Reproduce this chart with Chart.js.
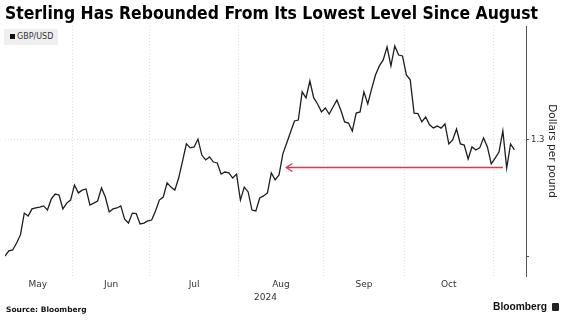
<!DOCTYPE html>
<html>
<head>
<meta charset="utf-8">
<script src="https://cdn.jsdelivr.net/npm/chart.js@4.4.1/dist/chart.umd.min.js"></script>
<style>
  html, body { margin: 0; padding: 0; background: #fff; }
  #wrap { position: relative; width: 567px; height: 323px; overflow: hidden; }
  #chart { position: absolute; left: 0; top: 0; }
  .title { position: absolute; left: 5px; top: 2px; font: bold 18.5px "Liberation Sans Narrow", "DejaVu Sans Condensed", sans-serif; color: #000; white-space: nowrap; transform-origin: 0 0; }
  .legend { position: absolute; left: 4px; top: 29px; width: 54px; height: 16px; background: #efefef; font: 8px "DejaVu Sans", sans-serif; color: #333; line-height: 16px; white-space: nowrap; }
  .legend i { display: inline-block; width: 5px; height: 5px; background: #111; margin: 0 2px 0 6px; vertical-align: 0; }
  .source { position: absolute; left: 6px; top: 305px; font: bold 7.5px "DejaVu Sans", sans-serif; color: #111; white-space: nowrap; }
  .logo { position: absolute; left: 493px; top: 300px; font: bold 10.5px "Liberation Sans", sans-serif; color: #111; white-space: nowrap; transform-origin: 0 0; }
  .logo-icon { position: absolute; left: 552px; top: 303px; width: 7px; height: 8px; background: #222; border-radius: 1px; }
</style>
</head>
<body>
<div id="wrap">
  <canvas id="chart" width="567" height="323"></canvas>
  <div class="title" id="title">Sterling Has Rebounded From Its Lowest Level Since August</div>
  <div class="legend"><i></i>GBP/USD</div>
  <div class="source">Source: Bloomberg</div>
  <div class="logo" id="logo">Bloomberg</div>
  <div class="logo-icon"></div>
</div>
<script>
// trading days shown per month, May 8 to Nov 8 2024
const months = ['May', 'Jun', 'Jul', 'Aug', 'Sep', 'Oct', 'Nov'];
const tradingDays = [18, 20, 23, 22, 21, 23, 6];
const labelledMonths = ['May', 'Jun', 'Jul', 'Aug', 'Sep', 'Oct'];

// GBP/USD daily close
const gbpusd = [
  1.2500, 1.2522, 1.2526, 1.2556, 1.2591, 1.2685, 1.2672, 1.2703, 1.2707, 1.2711,
  1.2716, 1.2698, 1.2746, 1.2767, 1.2763, 1.2703, 1.2728, 1.2741,
  1.2806, 1.2772, 1.2784, 1.2789, 1.2720, 1.2728, 1.2737, 1.2793, 1.2754, 1.2690,
  1.2703, 1.2707, 1.2716, 1.2659, 1.2642, 1.2685, 1.2683, 1.2638, 1.2642, 1.2651,
  1.2655, 1.2694, 1.2741, 1.2754, 1.2815, 1.2797, 1.2784, 1.2836, 1.2909, 1.2983,
  1.2966, 1.2970, 1.3004, 1.2935, 1.2914, 1.2927, 1.2905, 1.2901, 1.2853, 1.2862,
  1.2858, 1.2836, 1.2853,
  1.2741, 1.2797, 1.2776, 1.2698, 1.2694, 1.2750, 1.2759, 1.2772, 1.2858, 1.2828,
  1.2849, 1.2940, 1.2987, 1.3034, 1.3082, 1.3086, 1.3207, 1.3181, 1.3254, 1.3181,
  1.3155, 1.3121,
  1.3138, 1.3112, 1.3142, 1.3172, 1.3129, 1.3078, 1.3073, 1.3039, 1.3116, 1.3121,
  1.3207, 1.3155, 1.3220, 1.3280, 1.3319, 1.3345, 1.3401, 1.3319, 1.3405, 1.3366,
  1.3362,
  1.3280, 1.3259, 1.3116, 1.3114, 1.3078, 1.3099, 1.3065, 1.3052, 1.3060, 1.3051,
  1.3069, 1.2983, 1.3000, 1.3047, 1.2983, 1.2978, 1.2918, 1.2970, 1.2957, 1.2966,
  1.3009, 1.2970, 1.2897,
  1.2922, 1.2948, 1.3039, 1.2879, 1.2983, 1.2957
];

const yTicks = [1.25, 1.3];
const yLabelled = [1.3];

// red arrow: from the latest low back to August
const arrowFrom = 129;
const arrowTo = 72.9;
const arrowLevel = 1.2884;

// month boundaries (gridlines) and mid-month label spots, in trading-day units
const starts = [];
let acc = 0;
tradingDays.forEach(n => { starts.push(acc); acc += n; });
const boundaries = starts.slice(1).map(s => s - 0.5);
const centers = [];
months.forEach((m, i) => {
  if (!labelledMonths.includes(m)) return;
  const a = starts[i] - 0.5;
  const b = i + 1 < starts.length ? starts[i + 1] - 0.5 : acc - 0.5;
  centers.push({ v: (a + b) / 2, m });
});

const arrowPlugin = {
  id: 'arrow',
  afterDatasetsDraw(chart) {
    const { ctx, scales: { x, y } } = chart;
    const x1 = x.getPixelForValue(arrowFrom);
    const x2 = x.getPixelForValue(arrowTo);
    const yy = Math.round(y.getPixelForValue(arrowLevel)) + 0.5;
    ctx.save();
    ctx.setLineDash([]);
    ctx.strokeStyle = '#e8304f';
    ctx.lineWidth = 1.3;
    ctx.beginPath();
    ctx.moveTo(x1, yy);
    ctx.lineTo(x2, yy);
    ctx.stroke();
    ctx.beginPath();
    ctx.moveTo(x2 + 6, yy - 4);
    ctx.lineTo(x2, yy);
    ctx.lineTo(x2 + 6, yy + 4);
    ctx.stroke();
    ctx.restore();
  }
};

new Chart(document.getElementById('chart'), {
  type: 'line',
  data: {
    datasets: [{
      label: 'GBP/USD',
      data: gbpusd.map((v, i) => ({ x: i, y: v })),
      borderColor: '#1e1e1e',
      borderWidth: 1.3,
      pointRadius: 0,
      tension: 0,
      fill: false
    }]
  },
  options: {
    responsive: false,
    animation: false,
    devicePixelRatio: 1,
    layout: { padding: { top: 26, left: 5, right: 0, bottom: 0 } },
    plugins: { legend: { display: false }, tooltip: { enabled: false } },
    scales: {
      x: {
        type: 'linear',
        min: 0,
        max: 135,
        afterBuildTicks: s => {
          s.ticks = boundaries.map(v => ({ value: v }))
            .concat(centers.map(c => ({ value: c.v })))
            .sort((a, b) => a.value - b.value);
        },
        afterFit: s => { s.height = 47; },
        ticks: {
          autoSkip: false,
          maxRotation: 0,
          padding: 3,
          color: '#333',
          font: { family: 'DejaVu Sans', size: 9 },
          callback: v => {
            const c = centers.find(c => c.v === v);
            return c ? c.m : '';
          }
        },
        grid: {
          color: ctx => ctx.tick && boundaries.includes(ctx.tick.value) ? '#e2e2e2' : 'transparent',
          drawTicks: false
        },
        border: { display: false, dash: [1, 2] },
        title: {
          display: true,
          text: '2024',
          color: '#333',
          font: { family: 'DejaVu Sans', size: 9 },
          padding: { top: 0, bottom: 20 }
        }
      },
      y: {
        position: 'right',
        min: 1.2414,
        max: 1.3491,
        afterBuildTicks: s => { s.ticks = yTicks.map(v => ({ value: v })); },
        afterFit: s => { s.width = 41; },
        ticks: {
          padding: 2,
          color: '#333',
          font: { family: 'DejaVu Sans', size: 8.5 },
          callback: v => yLabelled.includes(v) ? String(v) : ''
        },
        grid: {
          color: ctx => ctx.tick && ctx.tick.value === 1.3 ? '#e2e2e2' : 'transparent',
          tickColor: '#555',
          tickLength: 3
        },
        border: { display: true, color: '#555', width: 1, dash: [1, 2] },
        title: {
          display: true,
          text: 'Dollars per pound',
          color: '#222',
          font: { family: 'DejaVu Sans', size: 10.5 },
          padding: { top: 9, bottom: 0 }
        }
      }
    }
  },
  plugins: [arrowPlugin]
});

// squeeze title and logo text to the widths in the reference
function fitWidth(id, w) {
  const el = document.getElementById(id);
  const natural = el.getBoundingClientRect().width;
  if (natural > 0) el.style.transform = 'scaleX(' + (w / natural) + ')';
}
fitWidth('title', 533);
fitWidth('logo', 54);
</script>
</body>
</html>
